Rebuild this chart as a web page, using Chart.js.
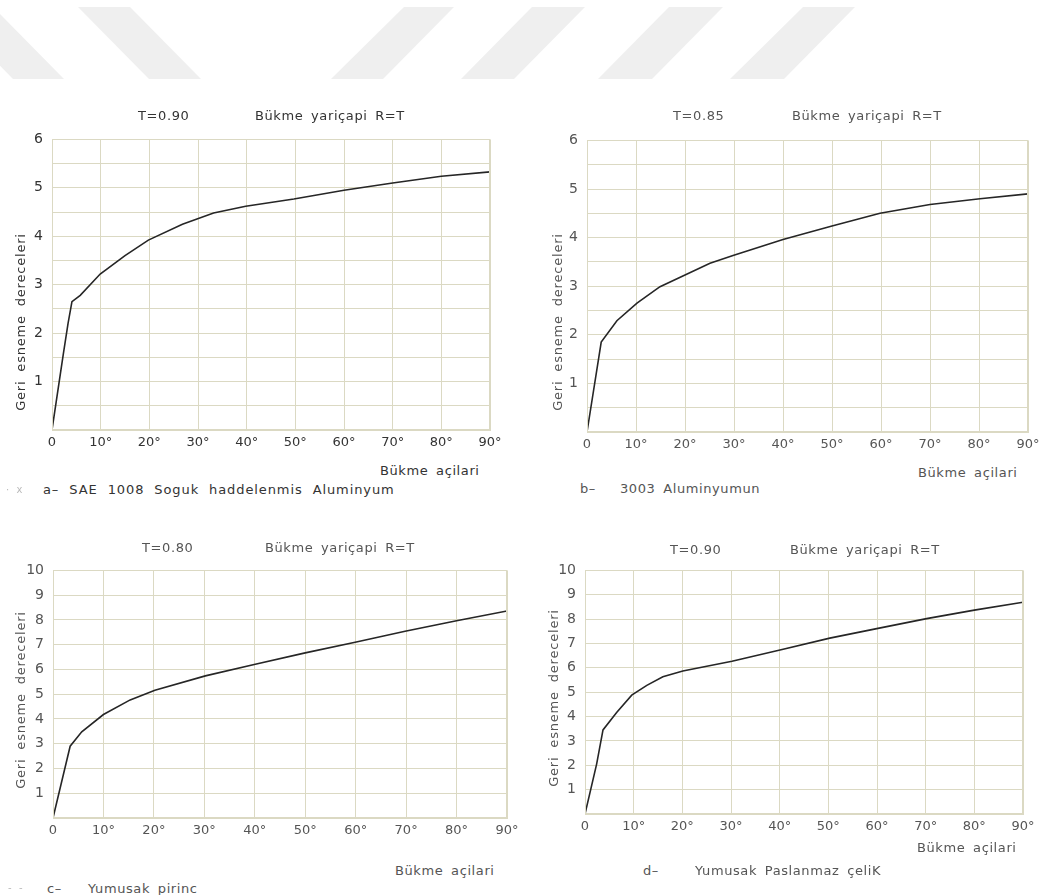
<!DOCTYPE html>
<html>
<head>
<meta charset="utf-8">
<script src="https://cdn.jsdelivr.net/npm/chart.js@4"></script>
<style>
  html, body { margin:0; padding:0; background:#fff; }
  body { width:1059px; height:895px; position:relative; overflow:hidden; font-family:"DejaVu Sans", "Liberation Sans", sans-serif; color:#333; }
  canvas { position:absolute; }
  .t { position:absolute; white-space:nowrap; font-size:13px; letter-spacing:0.6px; word-spacing:3px; line-height:1; transform:translateY(-50%); }
  .v { position:absolute; white-space:nowrap; font-size:13px; letter-spacing:0.8px; word-spacing:4px; line-height:1; transform:translate(-50%,-50%) rotate(-90deg); }
  svg.wm { position:absolute; left:0; top:0; }
</style>
</head>
<body>
<svg class="wm" width="1059" height="90">
  <polygon points="-58,7 -7,7 64,79 13,79" fill="#efefef"/>
  <polygon points="78,7 130,7 201,79 149,79" fill="#efefef"/>
  <polygon points="404,7 454,7 383,79 331,79" fill="#efefef"/>
  <polygon points="532,7 585,7 514,79 461,79" fill="#efefef"/>
  <polygon points="669,7 723,7 652,79 598,79" fill="#efefef"/>
  <polygon points="803,7 855,7 784,79 730,79" fill="#efefef"/>
</svg>

<canvas id="ca"></canvas>
<canvas id="cb"></canvas>
<canvas id="cc"></canvas>
<canvas id="cd"></canvas>

<!-- titles -->
<div class="t" style="left:138px;top:115px">T=0.90</div>
<div class="t" style="left:255px;top:115px">Bükme yariçapi R=T</div>
<div class="t" style="left:673px;top:115px;color:#555">T=0.85</div>
<div class="t" style="left:792px;top:115px;color:#555">Bükme yariçapi R=T</div>
<div class="t" style="left:142px;top:547px;color:#555">T=0.80</div>
<div class="t" style="left:265px;top:547px;color:#555">Bükme yariçapi R=T</div>
<div class="t" style="left:670px;top:549px;color:#555">T=0.90</div>
<div class="t" style="left:790px;top:549px;color:#555">Bükme yariçapi R=T</div>

<!-- x axis titles -->
<div class="t" style="left:380px;top:470px">Bükme açilari</div>
<div class="t" style="left:918px;top:472px;color:#555">Bükme açilari</div>
<div class="t" style="left:395px;top:870px;color:#555">Bükme açilari</div>
<div class="t" style="left:917px;top:847px;color:#555">Bükme açilari</div>

<!-- y axis titles -->
<div class="v" style="left:20px;top:322px">Geri esneme dereceleri</div>
<div class="v" style="left:557px;top:322px;color:#555">Geri esneme dereceleri</div>
<div class="v" style="left:20px;top:700px;color:#555">Geri esneme dereceleri</div>
<div class="v" style="left:553px;top:698px;color:#555">Geri esneme dereceleri</div>

<!-- captions -->
<div class="t" style="left:6px;top:490px;color:#bbb;font-size:10px">· x</div>
<div class="t" style="left:43px;top:489px;letter-spacing:0.9px;word-spacing:5px">a–&nbsp;SAE 1008 Soguk haddelenmis Aluminyum</div>
<div class="t" style="left:580px;top:488px;color:#555">b–</div>
<div class="t" style="left:620px;top:488px;color:#555">3003 Aluminyumun</div>
<div class="t" style="left:8px;top:888px;color:#bbb;font-size:10px">- -</div>
<div class="t" style="left:47px;top:888px;color:#555">c–</div>
<div class="t" style="left:88px;top:888px;color:#555">Yumusak pirinc</div>
<div class="t" style="left:643px;top:870px;color:#555">d–</div>
<div class="t" style="left:695px;top:870px;color:#555">Yumusak Paslanmaz çeliK</div>

<script>
// ---- data ----
const xTicks = [0, 10, 20, 30, 40, 50, 60, 70, 80, 90];

const anglesA = [0, 2.3, 3.3, 4.1, 5.8, 9.9, 15, 19.8, 26.8, 33.2, 39.8, 49.7, 60, 70, 80, 90];
const springA = [0, 1.55, 2.2, 2.65, 2.78, 3.22, 3.6, 3.92, 4.25, 4.48, 4.62, 4.77, 4.95, 5.1, 5.24, 5.33];

const anglesB = [0, 2.9, 6.1, 10.2, 14.9, 20, 25.1, 29.8, 40, 50, 59.8, 70, 80.2, 90];
const springB = [0, 1.85, 2.29, 2.65, 2.99, 3.23, 3.47, 3.63, 3.96, 4.24, 4.5, 4.68, 4.8, 4.9];

const anglesC = [0, 3.4, 5.7, 10, 15.3, 20.2, 30.2, 40.1, 50, 59.9, 69.8, 80, 90];
const springC = [0, 2.9, 3.48, 4.18, 4.77, 5.16, 5.74, 6.21, 6.67, 7.1, 7.54, 7.97, 8.36];

const anglesD = [0, 2.4, 3.7, 6.5, 9.6, 12.7, 16, 20.1, 30.2, 40.5, 50.3, 60.2, 70.2, 80, 90];
const springD = [0, 2.06, 3.45, 4.17, 4.88, 5.28, 5.63, 5.87, 6.27, 6.75, 7.22, 7.62, 8.02, 8.37, 8.69];

const yMaxAB = 6, yStepAB = 0.5;
const yMaxCD = 10, yStepCD = 1;

// ---- chart builder ----
const GRID = '#dbd9c3';
function makeChart(id, L, T, R, B, xs, ys, ymax, ystep, textColor) {
  const padL = 50, padT = 10, padR = 22, padB = 26;
  const W = (R - L) + padL + padR, H = (B - T) + padT + padB;
  const cv = document.getElementById(id);
  cv.width = W; cv.height = H;
  cv.style.left = (L - padL) + 'px';
  cv.style.top = (T - padT) + 'px';
  cv.style.width = W + 'px'; cv.style.height = H + 'px';
  const pts = xs.map((x, i) => ({x: x, y: ys[i]}));
  new Chart(cv, {
    type: 'line',
    data: { datasets: [{ data: pts, borderColor: '#262626', borderWidth: 1.6, pointRadius: 0, tension: 0, fill: false }] },
    options: {
      responsive: false,
      animation: false,
      devicePixelRatio: 1,
      layout: { padding: { left: 0, top: padT, right: padR, bottom: 0 } },
      plugins: { legend: { display: false }, tooltip: { enabled: false } },
      scales: {
        x: {
          type: 'linear', min: 0, max: 90,
          afterBuildTicks: s => { s.ticks = xTicks.map(v => ({value: v})); },
          afterFit: s => { s.height = padB; },
          grid: { color: GRID, lineWidth: 1, drawTicks: false },
          border: { color: GRID },
          ticks: { padding: 5, color: textColor, font: { family: 'DejaVu Sans', size: 13 }, maxRotation: 0, autoSkip: false,
                   callback: v => v === 0 ? '0' : v + '°' }
        },
        y: {
          type: 'linear', min: 0, max: ymax,
          ticks: { stepSize: ystep, padding: 9, color: textColor, font: { family: 'DejaVu Sans', size: 14 }, autoSkip: false,
                   callback: v => (v === 0 || !Number.isInteger(v)) ? '' : String(v) },
          afterFit: s => { s.width = padL; },
          grid: { color: GRID, lineWidth: 1, drawTicks: false },
          border: { color: GRID }
        }
      }
    },
    plugins: [{
      id: 'frame',
      afterDraw(chart) {
        const a = chart.chartArea, c = chart.ctx;
        c.save(); c.strokeStyle = GRID; c.lineWidth = 1;
        c.strokeRect(Math.round(a.left) + 0.5, Math.round(a.top) + 0.5, Math.round(a.right - a.left) - 1, Math.round(a.bottom - a.top) - 1);
        c.restore();
      }
    }]
  });
}

makeChart('ca', 52, 132, 490, 430, anglesA, springA, yMaxAB, yStepAB, '#333');
makeChart('cb', 587, 133, 1028, 432, anglesB, springB, yMaxAB, yStepAB, '#555');
makeChart('cc', 53, 563, 507, 818, anglesC, springC, yMaxCD, yStepCD, '#555');
makeChart('cd', 585, 563, 1023, 814, anglesD, springD, yMaxCD, yStepCD, '#555');
</script>
</body>
</html>
